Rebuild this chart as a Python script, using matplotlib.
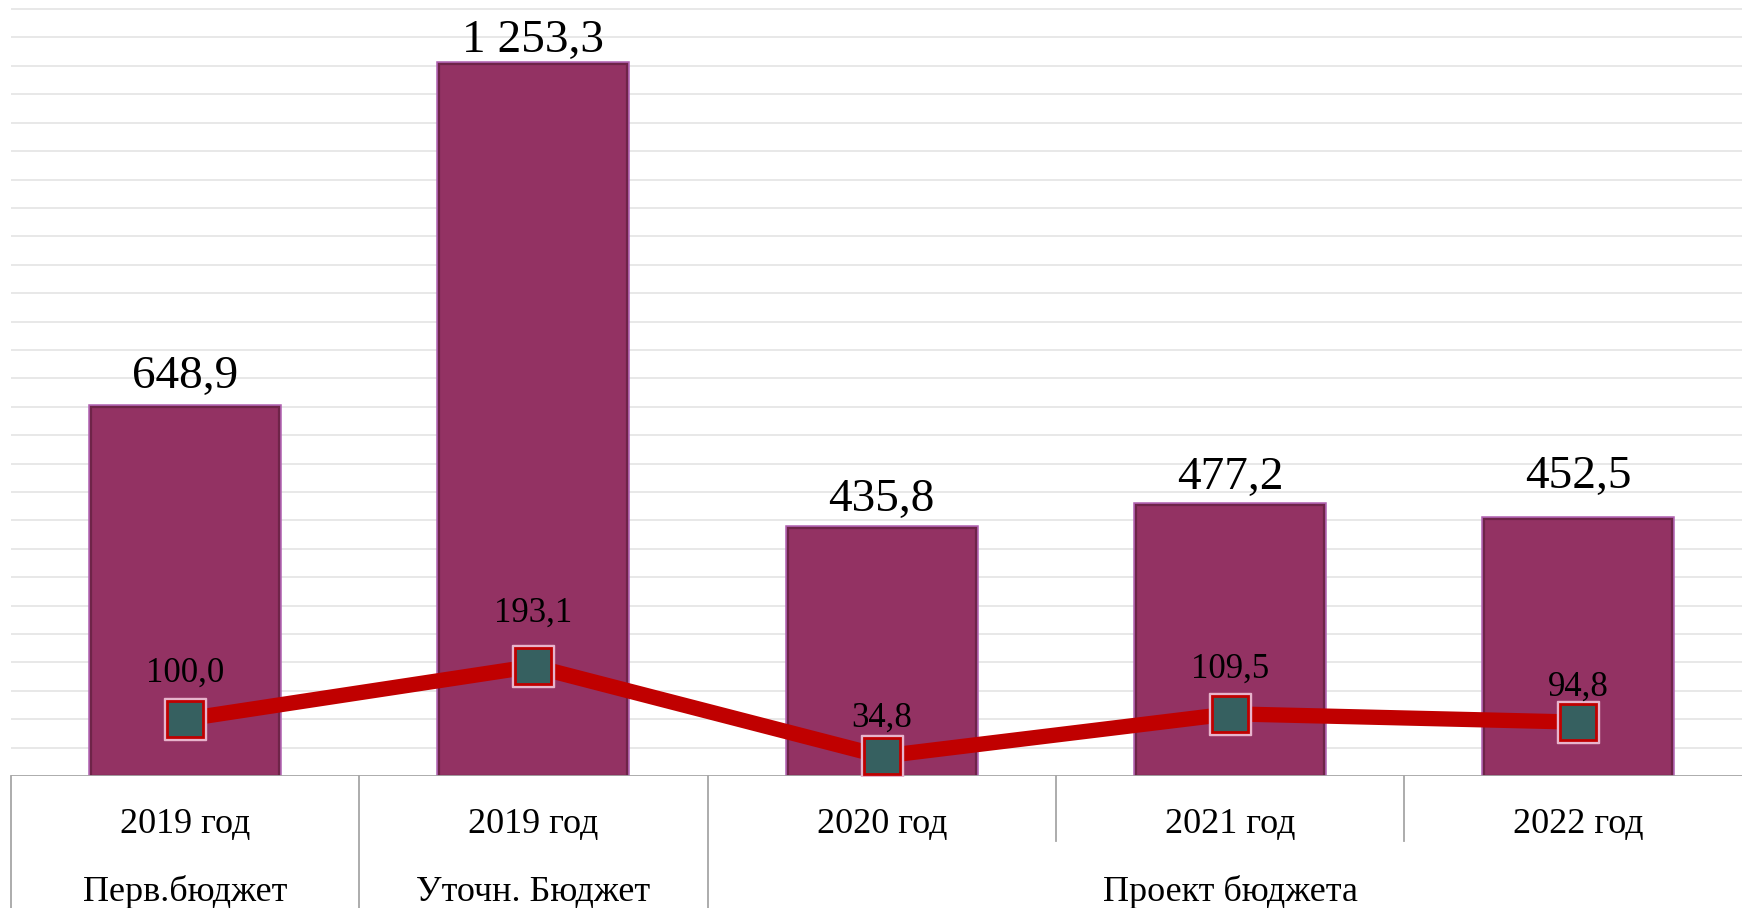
import matplotlib.pyplot as plt
from matplotlib import transforms

plt.rcParams['font.family'] = ['Liberation Serif', 'DejaVu Serif']

# data
years = ['2019 год', '2019 год', '2020 год', '2021 год', '2022 год']
budget_types = ['Перв.бюджет', 'Уточн. Бюджет']
project_label = 'Проект бюджета'
amounts = [648.9, 1253.3, 435.8, 477.2, 452.5]
percents = [100.0, 193.1, 34.8, 109.5, 94.8]

# label offsets (points) as placed in the original
bar_lab_off = [6.4, 1.6, 5.6, 4, 15]
pct_lab_off = [21, 26.5, 15.5, 20.5, 13]

bar_color = '#933263'
line_color = '#C00000'
marker_color = '#366060'
sep_color = '#A6A6A6'

fig = plt.figure(figsize=(17.42, 9.08), dpi=100)
W, H = 1742, 908
ax = fig.add_axes([11 / W, (H - 776) / H, (W - 11) / W, 776 / H])

x = list(range(len(amounts)))

# horizontal grid every 50
for g in range(50, 1400, 50):
    ax.axhline(g, color='#E6E6E6', lw=1.3, zorder=0)

# bars: light outer rim, dark inner edge
ax.bar(x, amounts, width=0.54, color=bar_color, edgecolor='#B062B0', linewidth=4, zorder=2)
ax.bar(x, amounts, width=0.54, color=bar_color, edgecolor='#6E2448', linewidth=1.6, zorder=3)

for xi, v, off in zip(x, amounts, bar_lab_off):
    txt = f'{v:,.1f}'.replace(',', ' ').replace('.', ',')
    ax.annotate(txt, (xi, v), xytext=(0, off), textcoords='offset points',
                ha='center', va='bottom', fontsize=34, zorder=6)

# line with square markers
ax.plot(x, percents, color=line_color, lw=11, zorder=4, solid_capstyle='butt')
ax.plot(x, percents, ls='none', marker='s', markersize=30, color='#E7B4CC', zorder=5)
ax.plot(x, percents, ls='none', marker='s', markersize=26, markerfacecolor=marker_color,
        markeredgecolor=line_color, markeredgewidth=2, zorder=5)

for xi, v, off in zip(x, percents, pct_lab_off):
    ax.annotate(f'{v:.1f}'.replace('.', ','), (xi, v), xytext=(0, off),
                textcoords='offset points', ha='center', va='bottom', fontsize=25, zorder=6)

ax.set_xlim(-0.5, -0.5 + (W - 11) / 348.3)
ax.set_ylim(0, 1366)
ax.set_xticks([])
ax.set_yticks([])
for s in ax.spines.values():
    s.set_visible(False)
ax.axhline(0, color=sep_color, lw=1.3, zorder=3)

# multi-level category axis
tr = transforms.blended_transform_factory(ax.transData, ax.transAxes)
row1 = -(825 - 776) / 776
row2 = -(892 - 776) / 776
short_end = -(841 - 776) / 776
bottom = -(H - 776) / 776

for xi, lab in zip(x, years):
    ax.text(xi, row1, lab, transform=tr, ha='center', va='center', fontsize=26, clip_on=False)
for xi, lab in zip(x[:2], budget_types):
    ax.text(xi, row2, lab, transform=tr, ha='center', va='center', fontsize=26, clip_on=False)
ax.text(3, row2, project_label, transform=tr, ha='center', va='center', fontsize=26, clip_on=False)

for b in [-0.5, 0.5, 1.5]:
    ax.plot([b, b], [0, bottom], transform=tr, color=sep_color, lw=1.3, clip_on=False)
for b in [2.5, 3.5]:
    ax.plot([b, b], [0, short_end], transform=tr, color=sep_color, lw=1.3, clip_on=False)

fig.savefig('out.png', dpi=100)
